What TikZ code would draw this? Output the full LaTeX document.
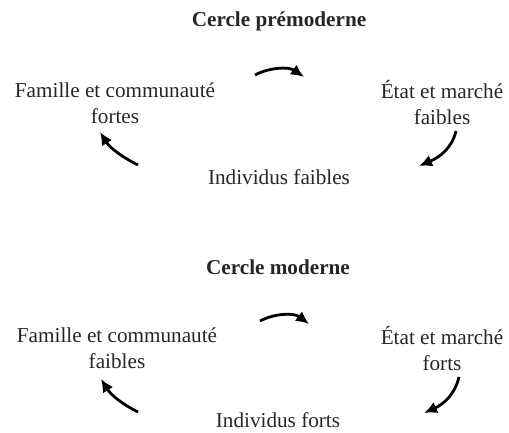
\documentclass[tikz,border=0pt]{standalone}
\usepackage{fontspec}
\setmainfont{Liberation Serif}
\usetikzlibrary{arrows.meta}
\definecolor{ink}{HTML}{262626}
\tikzset{
  lbl/.style={text=ink, align=center, inner sep=0pt, font=\fontsize{10.6}{13}\selectfont},
  ttl/.style={text=ink, inner sep=0pt, font=\fontsize{10.6}{13}\selectfont\bfseries},
  flow/.style={draw=black, line width=1.4pt, -{Latex[length=6.5pt,width=6pt]}}
}
\begin{document}
\begin{tikzpicture}[x=0.5pt,y=-0.5pt]
\useasboundingbox (0,0) rectangle (509,433);
% --- premodern circle
\node[ttl] (t1) at (279,21) {Cercle prémoderne};
\node[lbl] (f1) at (115,103) {Famille et communauté\\fortes};
\node[lbl] (e1) at (442,103) {État et marché\\faibles};
\node[lbl] (i1) at (279,177) {Individus faibles};
\coordinate (a1s) at (255,75);
\coordinate (a1e) at (304,77);
\coordinate (b1s) at (456,131);
\coordinate (b1e) at (419,166);
\coordinate (c1s) at (138,165);
\coordinate (c1e) at (100,132);
\draw[flow] (a1s) .. controls (268,68) and (288,66) .. (a1e);
\draw[flow] (b1s) .. controls (452,148) and (440,157) .. (b1e);
\draw[flow] (c1s) .. controls (122,157) and (110,148) .. (c1e);
% --- modern circle
\node[ttl] (t2) at (278,267) {Cercle moderne};
\node[lbl] (f2) at (117,348.5) {Famille et communauté\\faibles};
\node[lbl] (e2) at (442,348.5) {État et marché\\forts};
\node[lbl] (i2) at (278,420) {Individus forts};
\coordinate (a2s) at (260,321);
\coordinate (a2e) at (309,324);
\coordinate (b2s) at (459,377);
\coordinate (b2e) at (424,413);
\coordinate (c2s) at (138,412);
\coordinate (c2e) at (101,379);
\draw[flow] (a2s) .. controls (273,314) and (293,312) .. (a2e);
\draw[flow] (b2s) .. controls (455,394) and (444,404) .. (b2e);
\draw[flow] (c2s) .. controls (122,404) and (111,395) .. (c2e);
\end{tikzpicture}
\end{document}
